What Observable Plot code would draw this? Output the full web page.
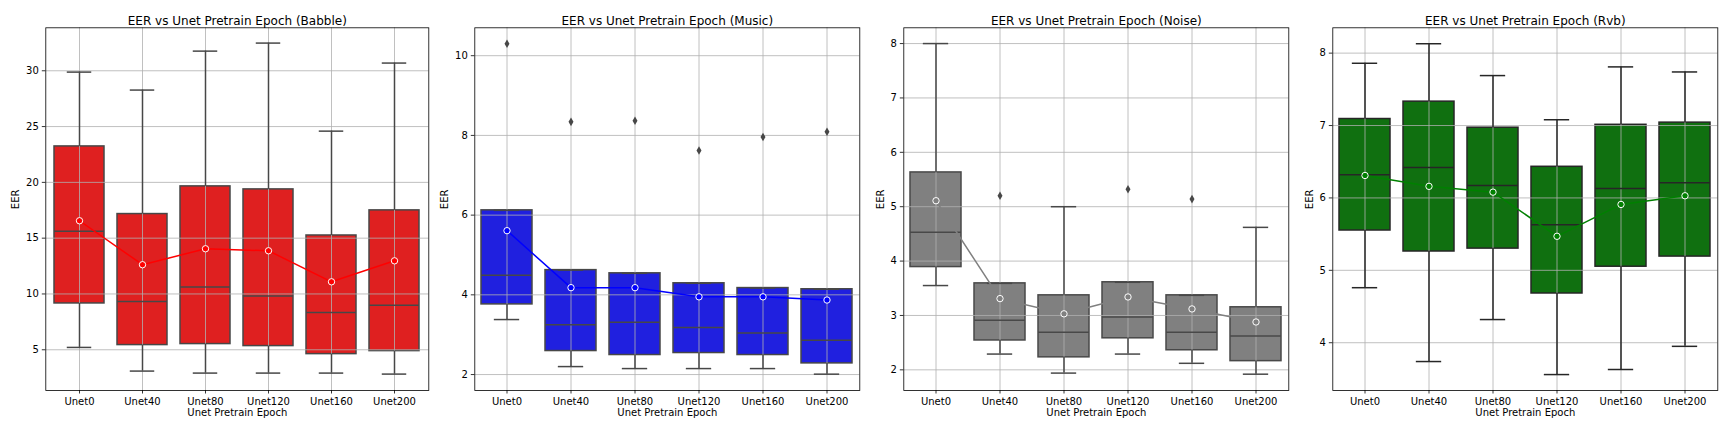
<!DOCTYPE html>
<html>
<head>
<meta charset="utf-8">
<script src="https://cdn.jsdelivr.net/npm/d3@7"></script>
<script src="https://cdn.jsdelivr.net/npm/@observablehq/plot@0.6"></script>
<style>
  body { margin: 0; background: white; }
  #row { display: flex; width: 1728px; height: 432px; }
  #row > svg, #row > figure { flex: none; margin: 0; }
  #row svg text { font-family: "DejaVu Sans", sans-serif; }
</style>
</head>
<body>
<div id="row"></div>
<script>
const categories = ["Unet0", "Unet40", "Unet80", "Unet120", "Unet160", "Unet200"];

// Babble
const babbleLo   = [5.21, 3.09, 2.91, 2.91, 2.91, 2.82];
const babbleQ1   = [9.15, 5.42, 5.51, 5.33, 4.61, 4.88];
const babbleMed  = [15.63, 9.33, 10.62, 9.81, 8.35, 9.00];
const babbleQ3   = [23.22, 17.16, 19.64, 19.37, 15.24, 17.49];
const babbleHi   = [29.88, 28.27, 31.76, 32.48, 24.59, 30.69];
const babbleMean = [16.56, 12.62, 14.05, 13.87, 11.09, 12.97];
const babbleOutCat = [];
const babbleOutVal = [];

// Music
const musicLo   = [3.38, 2.20, 2.15, 2.15, 2.15, 2.01];
const musicQ1   = [3.76, 2.59, 2.49, 2.54, 2.49, 2.28];
const musicMed  = [4.49, 3.25, 3.31, 3.18, 3.04, 2.86];
const musicQ3   = [6.12, 4.62, 4.54, 4.29, 4.17, 4.14];
const musicHi   = [6.12, 4.62, 4.54, 4.29, 4.17, 4.14];
const musicMean = [5.61, 4.18, 4.18, 3.95, 3.95, 3.87];
const musicOutCat = ["Unet0", "Unet40", "Unet80", "Unet120", "Unet160", "Unet200"];
const musicOutVal = [10.30, 8.34, 8.37, 7.62, 7.96, 8.09];

// Noise
const noiseLo   = [3.55, 2.29, 1.94, 2.29, 2.12, 1.92];
const noiseQ1   = [3.89, 2.54, 2.23, 2.58, 2.36, 2.16];
const noiseMed  = [4.53, 2.91, 2.69, 2.97, 2.69, 2.62];
const noiseQ3   = [5.63, 3.59, 3.37, 3.61, 3.37, 3.15];
const noiseHi   = [8.00, 3.59, 5.00, 3.61, 3.37, 4.62];
const noiseMean = [5.11, 3.31, 3.03, 3.34, 3.12, 2.88];
const noiseOutCat = ["Unet40", "Unet120", "Unet160"];
const noiseOutVal = [5.20, 5.32, 5.14];

// Rvb
const rvbLo   = [4.76, 3.74, 4.32, 3.56, 3.63, 3.95];
const rvbQ1   = [5.55, 5.26, 5.30, 4.68, 5.05, 5.19];
const rvbMed  = [6.32, 6.42, 6.17, 5.63, 6.13, 6.21];
const rvbQ3   = [7.09, 7.33, 6.97, 6.43, 7.01, 7.04];
const rvbHi   = [7.86, 8.13, 7.69, 7.08, 7.81, 7.74];
const rvbMean = [6.31, 6.16, 6.08, 5.47, 5.91, 6.03];
const rvbOutCat = [];
const rvbOutVal = [];

// Titles and ticks
const titles = ["EER vs Unet Pretrain Epoch (Babble)", "EER vs Unet Pretrain Epoch (Music)",
                "EER vs Unet Pretrain Epoch (Noise)", "EER vs Unet Pretrain Epoch (Rvb)"];
const babbleTicks = [5, 10, 15, 20, 25, 30];
const musicTicks = [2, 4, 6, 8, 10];
const noiseTicks = [2, 3, 4, 5, 6, 7, 8];
const rvbTicks = [4, 5, 6, 7, 8];

function rows(lo, q1, med, q3, hi, mean) {
  return categories.map((c, i) => ({cat: c, lo: lo[i], q1: q1[i], med: med[i], q3: q3[i], hi: hi[i], mean: mean[i]}));
}
function outs(cats, vals) {
  return cats.map((c, i) => ({cat: c, v: vals[i]}));
}

const panels = [
  {title: titles[0], data: rows(babbleLo, babbleQ1, babbleMed, babbleQ3, babbleHi, babbleMean),
   out: outs(babbleOutCat, babbleOutVal), ticks: babbleTicks, domain: [1.35, 33.85],
   fill: "#df2020", line: "#ff0000", edge: "#474747", ml: 45.3, mr: 3.7, labOff: 30.3},
  {title: titles[1], data: rows(musicLo, musicQ1, musicMed, musicQ3, musicHi, musicMean),
   out: outs(musicOutCat, musicOutVal), ticks: musicTicks, domain: [1.60, 10.70],
   fill: "#2020df", line: "#0000ff", edge: "#474747", ml: 42.3, mr: 4.7, labOff: 30},
  {title: titles[2], data: rows(noiseLo, noiseQ1, noiseMed, noiseQ3, noiseHi, noiseMean),
   out: outs(noiseOutCat, noiseOutVal), ticks: noiseTicks, domain: [1.62, 8.29],
   fill: "#808080", line: "#808080", edge: "#484848", ml: 39.3, mr: 7.7, labOff: 23.3},
  {title: titles[3], data: rows(rvbLo, rvbQ1, rvbMed, rvbQ3, rvbHi, rvbMean),
   out: outs(rvbOutCat, rvbOutVal), ticks: rvbTicks, domain: [3.34, 8.35],
   fill: "#107010", line: "#008000", edge: "#262626", ml: 36.3, mr: 10.7, labOff: 23}
];

const W = 432, H = 432, MT = 27.3, MB = 42, LW = 1.5;
const row = document.getElementById("row");

for (const p of panels) {
  const bw = (W - p.ml - p.mr) / categories.length * 0.8;
  const capInset = bw / 4;
  const chart = Plot.plot({
    width: W,
    height: H,
    marginLeft: p.ml,
    marginRight: p.mr,
    marginTop: MT,
    marginBottom: MB,
    style: {fontFamily: "'DejaVu Sans', sans-serif", fontSize: "10px", color: "black", background: "white", overflow: "visible"},
    x: {type: "band", domain: categories, paddingInner: 0.2, paddingOuter: 0.1, label: null},
    y: {domain: p.domain, label: null},
    marks: [
      // boxes (patches, below the grid)
      Plot.barY(p.data, {x: "cat", y1: "q1", y2: "q3", fill: p.fill, stroke: p.edge, strokeWidth: LW}),
      // grid between patches and lines
      Plot.gridX({stroke: "#b0b0b0", strokeOpacity: 1, strokeWidth: 0.8}),
      Plot.gridY({ticks: p.ticks, stroke: "#b0b0b0", strokeOpacity: 1, strokeWidth: 0.8}),
      // whiskers
      Plot.ruleX(p.data, {x: "cat", y1: "lo", y2: "q1", stroke: p.edge, strokeWidth: LW}),
      Plot.ruleX(p.data, {x: "cat", y1: "q3", y2: "hi", stroke: p.edge, strokeWidth: LW}),
      // caps
      Plot.tickY(p.data, {x: "cat", y: "lo", stroke: p.edge, strokeWidth: LW, insetLeft: capInset, insetRight: capInset}),
      Plot.tickY(p.data, {x: "cat", y: "hi", stroke: p.edge, strokeWidth: LW, insetLeft: capInset, insetRight: capInset}),
      // medians
      Plot.tickY(p.data, {x: "cat", y: "med", stroke: p.edge, strokeWidth: LW}),
      // outliers
      Plot.dot(p.out, {x: "cat", y: "v", symbol: "diamond", r: 2.6, fill: p.edge, stroke: "none"}),
      // mean line and markers
      Plot.line(p.data, {x: "cat", y: "mean", stroke: p.line, strokeWidth: 1.5}),
      Plot.dot(p.data, {x: "cat", y: "mean", r: 3.2, fill: p.line, stroke: "white", strokeWidth: 1}),
      // axes
      Plot.axisX({tickSize: 3.5, tickPadding: 3.5, strokeWidth: 0.8, label: null, fontSize: 10}),
      Plot.axisY({ticks: p.ticks, tickFormat: "d", tickSize: 3.5, tickPadding: 3.5, strokeWidth: 0.8, label: null, fontSize: 10}),
      Plot.frame({stroke: "black", strokeWidth: 0.8}),
      // title and axis labels
      Plot.text([p.title], {frameAnchor: "top", dy: -11.3, fontSize: 12, fill: "black", text: d => d}),
      Plot.text(["EER"], {frameAnchor: "left", dx: -p.labOff, rotate: -90, fontSize: 10, fill: "black", text: d => d}),
      Plot.text(["Unet Pretrain Epoch"], {frameAnchor: "bottom", dy: 25.5, fontSize: 10, fill: "black", text: d => d})
    ]
  });
  row.appendChild(chart);
}
</script>
</body>
</html>
